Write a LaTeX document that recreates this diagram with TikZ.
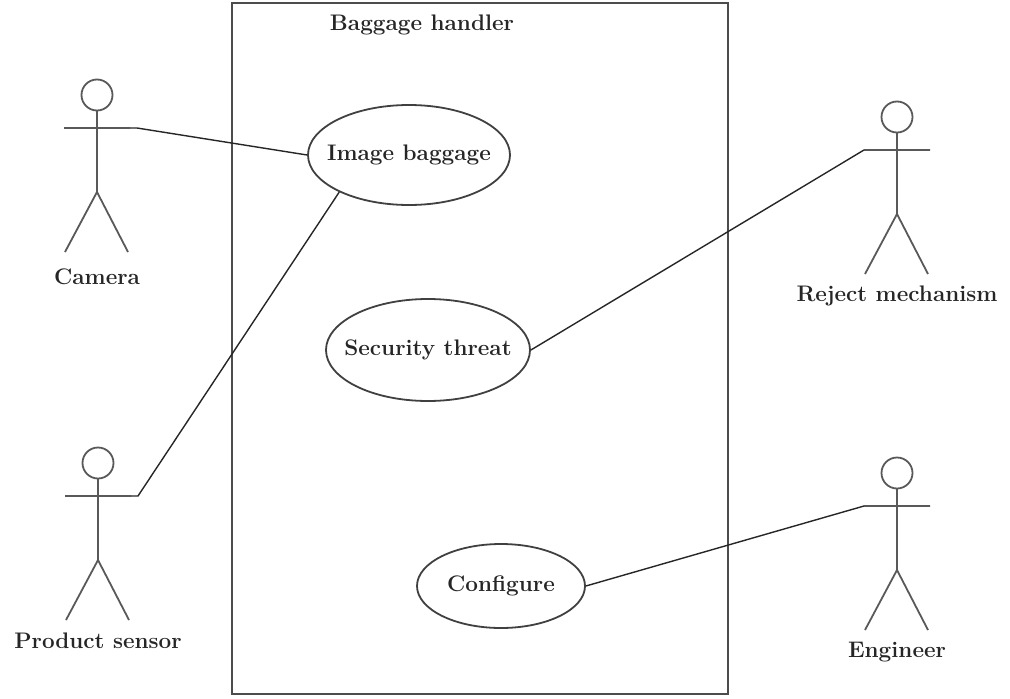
\documentclass[tikz,border=0pt]{standalone}
\usetikzlibrary{shapes.geometric}
\begin{document}
\begin{tikzpicture}[x=1pt,y=-1pt,
  lbl/.style={font=\fontsize{22.5}{26}\selectfont\bfseries, text=black!85, inner sep=0pt},
  uc/.style={draw=black!75, line width=1.8pt, ellipse, inner sep=0pt},
  conn/.style={draw=black!85, line width=1.4pt},
  actor/.pic={
    \draw[black!65, line width=1.8pt] (0,0) circle[radius=15.5];
    \draw[black!65, line width=1.8pt] (0,15.5) -- (0,97)
       (-33,33) -- (33,33)
       (-32,157) -- (0,97) -- (31,157);
    \coordinate (-l) at (-33,33);
    \coordinate (-r) at (33,33);
  }]
\useasboundingbox (0,0) rectangle (1010,699);
\draw[black!70, line width=2.4pt] (232,3) rectangle (728,694);
\node[lbl] (sys) at (422,25) {Baggage handler};

\node[uc, minimum width=202pt, minimum height=100pt] (img) at (409,155) {};
\node[lbl] (imgt) at (img) {Image baggage};
\node[uc, minimum width=204pt, minimum height=102pt] (sec) at (428,350) {};
\node[lbl] (sect) at (sec) {Security threat};
\node[uc, minimum width=168pt, minimum height=84pt] (conf) at (501,586) {};
\node[lbl] (conft) at (conf) {Configure};

\pic (cam) at (97,95) {actor};
\node[lbl] (camt) at (97,277) {Camera};
\pic (ps) at (98,463) {actor};
\node[lbl] (pst) at (98,641) {Product sensor};
\pic (rej) at (897,117) {actor};
\node[lbl] (rejt) at (897,296) {Reject mechanism};
\pic (eng) at (897,473) {actor};
\node[lbl] (engt) at (897,652) {Engineer};

\draw[conn] (cam-r) -- ++(7,0) -- (img.west);
\draw[conn] (ps-r) -- ++(7,0) -- (img.208);
\draw[conn] (sec.east) -- (rej-l);
\draw[conn] (conf.east) -- (eng-l);
\end{tikzpicture}
\end{document}
